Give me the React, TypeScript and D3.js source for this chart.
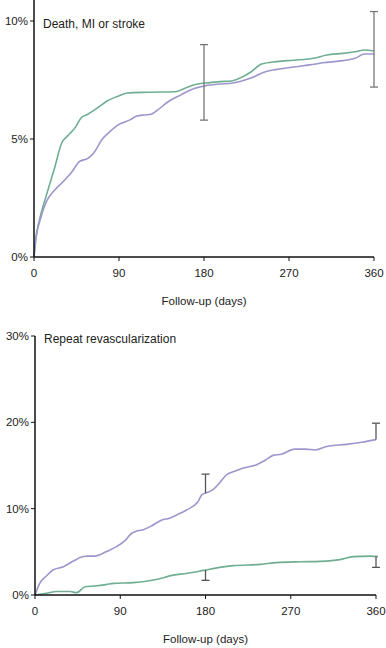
import React from 'react'
import * as d3 from 'd3'

// top panel: death, MI or stroke (%)
const topDays = [0, 2, 6, 13, 22, 29, 36, 43, 50, 57, 63, 70, 77, 88, 99, 120, 149, 160, 170, 186, 197, 209, 221, 230, 241, 257, 275, 296, 310, 327, 340, 350, 360]
const topGreen = [0, 0.8, 1.6, 2.6, 3.8, 4.8, 5.15, 5.45, 5.9, 6.05, 6.2, 6.4, 6.6, 6.8, 6.95, 6.98, 7.0, 7.15, 7.3, 7.39, 7.43, 7.46, 7.64, 7.85, 8.18, 8.28, 8.34, 8.42, 8.56, 8.63, 8.7, 8.77, 8.73]
const topPurpleDays = [0, 2, 6, 13, 22, 31, 40, 48, 57, 63, 73, 80, 89, 101, 109, 117, 124, 130, 142, 155, 167, 181, 197, 209, 229, 245, 257, 275, 292, 306, 327, 340, 350, 360]
const topPurple = [0, 0.8, 1.5, 2.34, 2.84, 3.2, 3.6, 4.04, 4.18, 4.4, 5.03, 5.3, 5.6, 5.8, 5.97, 6.02, 6.05, 6.2, 6.58, 6.86, 7.1, 7.25, 7.33, 7.36, 7.57, 7.85, 7.95, 8.05, 8.14, 8.23, 8.32, 8.42, 8.6, 8.6]
const topErrDays = [180, 360]
const topErrLo = [5.8, 7.2]
const topErrHi = [9.0, 10.4]
const topTicks = [0, 5, 10]

// bottom panel: repeat revascularization (%)
const botPurpleDays = [0, 5, 12, 19, 30, 40, 51, 56, 63, 75, 86, 95, 102, 107, 115, 123, 134, 142, 150, 160, 172, 176, 180, 188, 195, 202, 210, 220, 234, 243, 252, 260, 274, 285, 296, 308, 329, 345, 360]
const botPurple = [0, 1.35, 2.2, 2.9, 3.28, 3.9, 4.45, 4.5, 4.5, 5.0, 5.6, 6.3, 7.15, 7.4, 7.6, 8.0, 8.7, 8.9, 9.3, 9.85, 10.8, 11.6, 11.8, 12.2, 13.0, 13.9, 14.3, 14.7, 15.1, 15.6, 16.2, 16.3, 16.9, 16.9, 16.8, 17.2, 17.45, 17.7, 18.0]
const botGreenDays = [0, 12, 23, 37, 44, 53, 63, 75, 83, 104, 128, 146, 160, 178, 195, 209, 238, 255, 280, 301, 322, 336, 354, 362]
const botGreen = [0, 0.2, 0.4, 0.4, 0.27, 0.96, 1.04, 1.2, 1.35, 1.43, 1.8, 2.3, 2.5, 2.85, 3.2, 3.4, 3.55, 3.75, 3.85, 3.9, 4.1, 4.45, 4.5, 4.45]
const botErrDays = [180, 360]
const botPurpleFrom = [11.8, 18.0]
const botPurpleTo = [14.0, 19.9]
const botGreenFrom = [2.9, 4.5]
const botGreenTo = [1.7, 3.2]
const botTicks = [0, 10, 20, 30]

const xTicks = [0, 90, 180, 270, 360]

const GREEN = '#6fae93'
const PURPLE = '#9d96cd'
const FONT = 'Liberation Sans, Arial, sans-serif'

type Series = { days: number[]; vals: number[]; color: string }
type Bar = { day: number; from: number; to: number; capBoth: boolean }

function Panel({ xRange, yRange, yMax, axisTop, yTicks, title, series, bars, barColor }: {
  xRange: [number, number]; yRange: [number, number]; yMax: number; axisTop: number
  yTicks: number[]; title: string; series: Series[]; bars: Bar[]; barColor: string
}) {
  const x = d3.scaleLinear().domain([0, 360]).range(xRange)
  const y = d3.scaleLinear().domain([0, yMax]).range(yRange)
  const y0 = yRange[0]
  const line = d3.line<[number, number]>().x(d => x(d[0])).y(d => y(d[1])).curve(d3.curveMonotoneX)
  return (
    <g fontFamily={FONT}>
      <text x={xRange[0] + 9} y={yRange[1] + 7} fontSize={12} fill="#222">{title}</text>
      {series.map((s, i) => (
        <path key={i} d={line(s.days.map((d, j) => [d, s.vals[j]]))!} fill="none" stroke={s.color} strokeWidth={1.6} />
      ))}
      {bars.map((b, i) => (
        <g key={i} stroke={barColor} strokeWidth={1.3}>
          <line x1={x(b.day)} x2={x(b.day)} y1={y(b.from)} y2={y(b.to)} />
          <line x1={x(b.day) - 4} x2={x(b.day) + 4} y1={y(b.to)} y2={y(b.to)} />
          {b.capBoth && <line x1={x(b.day) - 4} x2={x(b.day) + 4} y1={y(b.from)} y2={y(b.from)} />}
        </g>
      ))}
      <line x1={xRange[0]} x2={xRange[0]} y1={axisTop} y2={y0} stroke="#111" strokeWidth={1.5} />
      <line x1={xRange[0]} x2={xRange[1]} y1={y0} y2={y0} stroke="#111" strokeWidth={1.5} />
      {yTicks.map(t => (
        <g key={t}>
          <line x1={xRange[0] - 4} x2={xRange[0]} y1={y(t)} y2={y(t)} stroke="#111" />
          <text x={xRange[0] - 6} y={y(t) + 4} fontSize={11.5} textAnchor="end" fill="#222">{t}%</text>
        </g>
      ))}
      {xTicks.map(t => (
        <g key={t}>
          <line x1={x(t)} x2={x(t)} y1={y0} y2={y0 + 4} stroke="#111" />
          <text x={x(t)} y={y0 + 20} fontSize={11.5} textAnchor="middle" fill="#222">{t}</text>
        </g>
      ))}
      <text x={(xRange[0] + xRange[1]) / 2} y={y0 + 48} fontSize={11.5} textAnchor="middle" fill="#222">Follow-up (days)</text>
    </g>
  )
}

export default function App() {
  const topBars: Bar[] = topErrDays.map((d, i) => ({ day: d, from: topErrLo[i], to: topErrHi[i], capBoth: true }))
  const botBars: Bar[] = [
    ...botErrDays.map((d, i) => ({ day: d, from: botPurpleFrom[i], to: botPurpleTo[i], capBoth: false })),
    ...botErrDays.map((d, i) => ({ day: d, from: botGreenFrom[i], to: botGreenTo[i], capBoth: false })),
  ]
  return (
    <svg width={386} height={648} style={{ position: 'absolute', left: 0, top: 0, background: '#fff' }}>
      <Panel xRange={[34, 374]} yRange={[257, 21]} yMax={10} axisTop={0} yTicks={topTicks}
        title="Death, MI or stroke"
        series={[{ days: topDays, vals: topGreen, color: GREEN }, { days: topPurpleDays, vals: topPurple, color: PURPLE }]}
        bars={topBars} barColor="#777" />
      <Panel xRange={[35, 376]} yRange={[595, 336]} yMax={30} axisTop={336} yTicks={botTicks}
        title="Repeat revascularization"
        series={[{ days: botPurpleDays, vals: botPurple, color: PURPLE }, { days: botGreenDays, vals: botGreen, color: GREEN }]}
        bars={botBars} barColor="#555" />
    </svg>
  )
}
